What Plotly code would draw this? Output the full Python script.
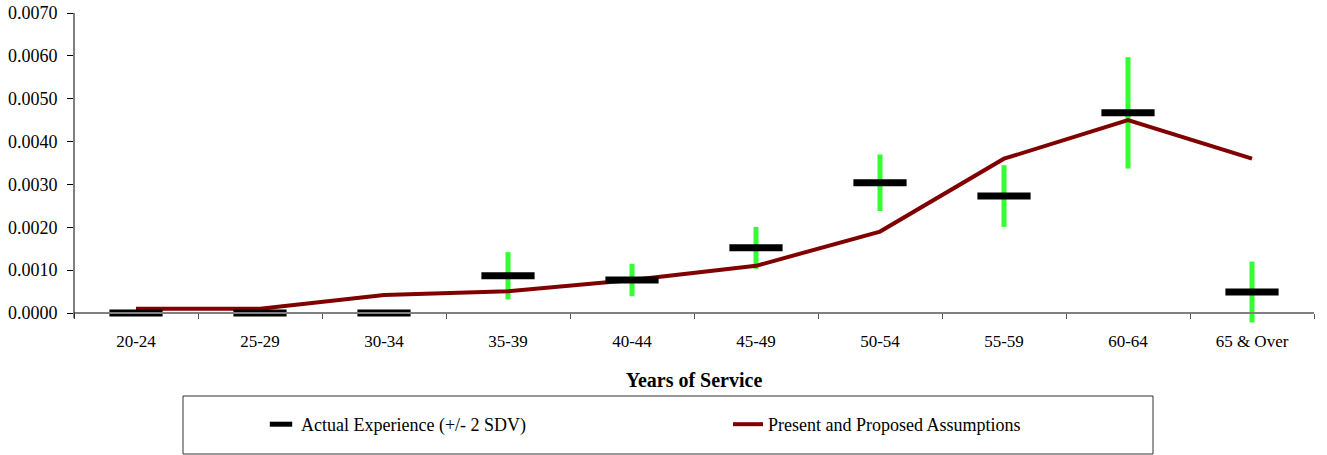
import plotly.graph_objects as go

categories = ["20-24", "25-29", "30-34", "35-39", "40-44", "45-49",
              "50-54", "55-59", "60-64", "65 & Over"]
actual = [0.0, 0.0, 0.0, 0.00087, 0.00077, 0.00152, 0.00304, 0.00273, 0.00467, 0.00049]
actual_err = [0.0, 0.0, 0.0, 0.00055, 0.00038, 0.00049, 0.00066, 0.00072, 0.00130, 0.00071]
assumed = [0.0001, 0.0001, 0.00042, 0.00051, 0.00077, 0.0011, 0.0019, 0.0036, 0.0045, 0.0036]
y_ticks = [0.0, 0.001, 0.002, 0.003, 0.004, 0.005, 0.006, 0.007]

FONT = "Liberation Serif"
Y_MIN, Y_MAX = -0.00028, 0.007

fig = go.Figure()

# green +/- 2 SDV bars (drawn first, underneath the line)
fig.add_trace(go.Scatter(
    x=categories, y=actual, mode="markers",
    marker=dict(size=1, opacity=0),
    error_y=dict(type="data", array=actual_err, visible=True,
                 color="#33FF33", thickness=5, width=0),
    showlegend=False, hoverinfo="skip",
))

fig.add_trace(go.Scatter(
    x=categories, y=assumed, mode="lines",
    name="Present and Proposed Assumptions",
    line=dict(color="#800000", width=4),
    legendrank=2,
))

fig.add_trace(go.Scatter(
    x=categories, y=actual, mode="markers",
    name="Actual Experience (+/- 2 SDV)",
    marker=dict(symbol="line-ew", size=38, color="black",
                line=dict(color="black", width=7)),
    cliponaxis=False,
    legendrank=1,
))

W, H = 1327, 455
L, T = 74, 13
R = W - 1314
B = H - 325
pw, ph = W - L - R, H - T - B

def px(x):
    return (x - L) / pw

def py(y):
    return (H - B - y) / ph

x_axis_pos = (0 - Y_MIN) / (Y_MAX - Y_MIN)

# legend frame
fig.add_shape(type="rect", xref="paper", yref="paper",
              x0=px(183), x1=px(1153), y0=py(396), y1=py(454),
              line=dict(color="#333333", width=1), fillcolor="rgba(0,0,0,0)")
# value-axis line (stops just below zero, like the original)
fig.add_shape(type="line", xref="paper", yref="y",
              x0=0, x1=0, y0=-0.00012, y1=Y_MAX,
              line=dict(color="black", width=1))

fig.update_layout(
    width=W, height=H,
    margin=dict(l=L, r=R, t=T, b=B, autoexpand=False),
    paper_bgcolor="white", plot_bgcolor="white",
    font=dict(family=FONT, size=17, color="black"),
    showlegend=True,
    legend=dict(orientation="h", x=px(261), xanchor="left",
                y=py(406), yanchor="top",
                entrywidth=422, entrywidthmode="pixels",
                bgcolor="rgba(0,0,0,0)", borderwidth=0,
                font=dict(family=FONT, size=18)),
    xaxis=dict(
        type="category", categoryorder="array", categoryarray=categories,
        range=[-0.5, len(categories) - 0.5], autorange=False,
        anchor="free", position=x_axis_pos,
        showline=True, linecolor="#808080", linewidth=1.5,
        ticks="outside", tickson="boundaries", ticklen=5, tickcolor="#555555",
        ticklabelstandoff=13,
        showgrid=False, zeroline=False,
        tickfont=dict(family=FONT, size=17),
        title=dict(text="<b>Years of Service</b>", font=dict(family=FONT, size=20), standoff=22),
    ),
    yaxis=dict(
        range=[Y_MIN, Y_MAX], autorange=False, tickvals=y_ticks, tickformat=".4f",
        showline=False,
        ticks="outside", ticklen=6, tickcolor="black",
        ticklabelstandoff=6, ticklabeloverflow="allow",
        showgrid=False, zeroline=False,
        tickfont=dict(family=FONT, size=18),
    ),
)

fig.write_html("out.html", config={"displayModeBar": False},
               post_script="document.body.style.margin='0px';")
